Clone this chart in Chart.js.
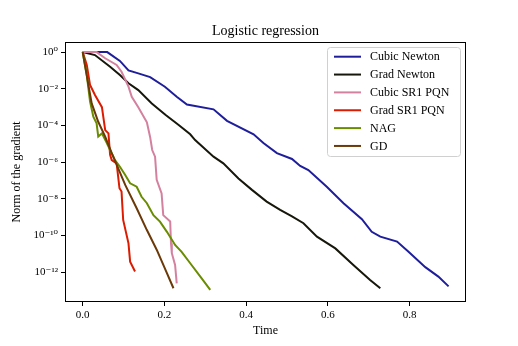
<!DOCTYPE html>
<html>
<head>
<meta charset="utf-8">
<script src="https://cdn.jsdelivr.net/npm/chart.js@4.4.1/dist/chart.umd.min.js"></script>
<style>
  html, body { margin: 0; padding: 0; background: #fff; }
  canvas { display: block; }
</style>
</head>
<body>
<canvas id="chart" width="518" height="346"></canvas>
<script>
// ---------- data ----------
const seriesNames = ["Cubic Newton", "Grad Newton", "Cubic SR1 PQN", "Grad SR1 PQN", "NAG", "GD"];
const seriesColors = ["#1e1e9c", "#16160a", "#d4819f", "#dc1c00", "#6a8c00", "#6b3808"];

const cubicNewtonTime = [0, 0.06, 0.091, 0.112, 0.136, 0.165, 0.201, 0.230, 0.255, 0.320, 0.353, 0.418, 0.442, 0.475, 0.512, 0.532, 0.552, 0.597, 0.638, 0.683, 0.707, 0.728, 0.769, 0.797, 0.838, 0.870, 0.895];
const cubicNewtonNorm = [1, 1, 3.3e-1, 1.0e-1, 6.9e-2, 4.3e-2, 1.3e-2, 3.7e-3, 1.4e-3, 7.6e-4, 1.8e-4, 3.3e-5, 1.1e-5, 3.1e-6, 1.5e-6, 6.2e-7, 3.7e-7, 4.6e-8, 5.8e-9, 7.8e-10, 1.6e-10, 8.7e-11, 4.7e-11, 1.3e-11, 1.9e-12, 5.8e-13, 1.7e-13];

const gradNewtonTime = [0, 0.030, 0.067, 0.091, 0.112, 0.136, 0.169, 0.203, 0.234, 0.263, 0.275, 0.320, 0.344, 0.381, 0.414, 0.450, 0.483, 0.512, 0.540, 0.573, 0.618, 0.662, 0.703, 0.728];
const gradNewtonNorm = [1, 6.9e-1, 1.6e-1, 5.6e-2, 2.0e-2, 8.5e-3, 1.6e-3, 3.7e-4, 1.1e-4, 3.3e-5, 1.6e-5, 2.0e-6, 8.7e-7, 1.3e-7, 3.1e-8, 7.1e-9, 2.5e-9, 1.1e-9, 4.7e-10, 8.7e-11, 2.0e-11, 2.5e-12, 3.8e-13, 1.35e-13];

const cubicSr1Time = [0, 0.034, 0.055, 0.083, 0.095, 0.112, 0.120, 0.136, 0.157, 0.165, 0.170, 0.177, 0.181, 0.193, 0.197, 0.214, 0.216, 0.218, 0.226, 0.230];
const cubicSr1Norm = [1, 1, 4.6e-1, 2.0e-1, 8.5e-2, 1.3e-2, 3.7e-3, 1.0e-3, 1.5e-4, 2.3e-5, 4.6e-6, 2.0e-6, 1.1e-7, 2.0e-8, 1.3e-9, 5.8e-10, 3.8e-11, 1.1e-11, 2.5e-12, 2.5e-13];

const gradSr1Time = [0, 0.010, 0.018, 0.030, 0.047, 0.055, 0.063, 0.067, 0.071, 0.083, 0.090, 0.095, 0.099, 0.112, 0.116, 0.128];
const gradSr1Norm = [1, 2.0e-1, 1.6e-2, 4.6e-3, 1.0e-3, 5.6e-5, 3.7e-5, 2.5e-6, 1.3e-6, 8.7e-7, 3.8e-8, 2.5e-8, 7.1e-10, 3.8e-11, 3.8e-12, 1.1e-12];

const nagTime = [0, 0.010, 0.018, 0.026, 0.034, 0.038, 0.047, 0.059, 0.067, 0.079, 0.091, 0.104, 0.116, 0.132, 0.144, 0.157, 0.173, 0.189, 0.206, 0.226, 0.242, 0.263, 0.291, 0.312];
const nagNorm = [1, 5.6e-2, 2.0e-3, 3.0e-4, 1.3e-4, 2.5e-5, 3.7e-5, 1.1e-5, 4.6e-6, 1.3e-6, 5.6e-7, 2.0e-7, 7.1e-8, 4.6e-8, 1.3e-8, 5.8e-9, 1.3e-9, 5.8e-10, 1.6e-10, 3.1e-11, 1.3e-11, 3.1e-12, 4.7e-13, 1.1e-13];

const gdTime = [0, 0.014, 0.022, 0.038, 0.055, 0.071, 0.104, 0.132, 0.157, 0.181, 0.206, 0.222];
const gdNorm = [1, 1.6e-2, 1.6e-3, 1.6e-4, 2.5e-5, 3.1e-6, 5.8e-8, 3.1e-9, 2.0e-10, 1.7e-11, 8.9e-13, 1.35e-13];

const xTickValues = [0, 0.2, 0.4, 0.6, 0.8];
const yTickValues = [1, 1e-2, 1e-4, 1e-6, 1e-8, 1e-10, 1e-12];

const allTimes = [cubicNewtonTime, gradNewtonTime, cubicSr1Time, gradSr1Time, nagTime, gdTime];
const allNorms = [cubicNewtonNorm, gradNewtonNorm, cubicSr1Norm, gradSr1Norm, nagNorm, gdNorm];

// ---------- helpers ----------
const SERIF = "'Liberation Serif', 'DejaVu Serif', serif";
const SUP = { "-": "\u207B", "0": "\u2070", "1": "\u00B9", "2": "\u00B2", "3": "\u00B3", "4": "\u2074",
              "5": "\u2075", "6": "\u2076", "7": "\u2077", "8": "\u2078", "9": "\u2079" };

function powerLabel(value) {
  const exp = String(Math.round(Math.log10(value)));
  return "10" + exp.split("").map(c => SUP[c]).join("");
}

// full box around the plot
const frame = {
  id: "frame",
  afterDatasetsDraw(chart) {
    const { ctx, chartArea: a } = chart;
    ctx.save();
    ctx.strokeStyle = "#000";
    ctx.lineWidth = 1;
    ctx.strokeRect(Math.round(a.left) + 0.5, Math.round(a.top) + 0.5,
                   Math.round(a.right - a.left) - 1, Math.round(a.bottom - a.top) - 1);
    ctx.restore();
  }
};

// matplotlib style legend in the upper right corner
const boxLegend = {
  id: "boxLegend",
  afterDraw(chart) {
    const { ctx, chartArea: a } = chart;
    const w = 133, h = 109;
    const x0 = a.right - 139, y0 = a.top + 5;
    ctx.save();
    ctx.beginPath();
    ctx.roundRect(x0 + 0.5, y0 + 0.5, w, h, 3);
    ctx.fillStyle = "rgba(255,255,255,0.85)";
    ctx.fill();
    ctx.strokeStyle = "#d0d0d0";
    ctx.lineWidth = 1;
    ctx.stroke();

    ctx.font = "12px " + SERIF;
    ctx.textBaseline = "middle";
    chart.data.datasets.forEach((ds, i) => {
      const y = y0 + 9.7 + i * 17.85;
      ctx.beginPath();
      ctx.moveTo(x0 + 7, y);
      ctx.lineTo(x0 + 34, y);
      ctx.strokeStyle = ds.borderColor;
      ctx.lineWidth = 2;
      ctx.stroke();
      ctx.fillStyle = "#000";
      ctx.fillText(ds.label, x0 + 43, y + 0.5);
    });
    ctx.restore();
  }
};

// ---------- chart ----------
const datasets = seriesNames.map((name, i) => ({
  label: name,
  data: allTimes[i].map((t, k) => ({ x: t, y: allNorms[i][k] })),
  borderColor: seriesColors[i],
  borderWidth: 2,
  pointRadius: 0,
  fill: false,
  tension: 0,
  order: seriesNames.length - i
}));

new Chart(document.getElementById("chart"), {
  type: "line",
  data: { datasets },
  options: {
    responsive: false,
    animation: false,
    layout: { padding: { left: 0, right: 52, top: 0, bottom: 0 } },
    plugins: {
      legend: { display: false },
      tooltip: { enabled: false },
      title: {
        display: true,
        text: "Logistic regression",
        color: "#000",
        fullSize: false,
        font: { family: SERIF, size: 14, weight: "normal" },
        padding: { top: 23, bottom: 2.2 }
      }
    },
    scales: {
      x: {
        type: "linear",
        min: -0.0433,
        max: 0.9376,
        afterBuildTicks: scale => { scale.ticks = xTickValues.map(v => ({ value: v })); },
        afterFit: scale => { scale.height = 44; },
        ticks: {
          color: "#000",
          padding: 3,
          maxRotation: 0,
          font: { family: SERIF, size: 11 },
          callback: v => v.toFixed(1)
        },
        grid: { drawOnChartArea: false, drawTicks: true, tickLength: 4, color: "#000" },
        border: { display: false },
        title: {
          display: true,
          text: "Time",
          color: "#000",
          font: { family: SERIF, size: 12 },
          padding: { top: 0, bottom: 8 }
        }
      },
      y: {
        type: "logarithmic",
        min: 2.4e-14,
        max: 3.55,
        afterBuildTicks: scale => { scale.ticks = yTickValues.map(v => ({ value: v })); },
        afterFit: scale => { scale.width = 65; },
        ticks: {
          color: "#000",
          padding: 3,
          font: { family: SERIF, size: 11 },
          callback: v => powerLabel(v)
        },
        grid: { drawOnChartArea: false, drawTicks: true, tickLength: 4, color: "#000" },
        border: { display: false },
        title: {
          display: true,
          text: "Norm of the gradient",
          color: "#000",
          font: { family: SERIF, size: 12 },
          padding: { top: 10, bottom: 0 }
        }
      }
    }
  },
  plugins: [frame, boxLegend]
});
</script>
</body>
</html>
